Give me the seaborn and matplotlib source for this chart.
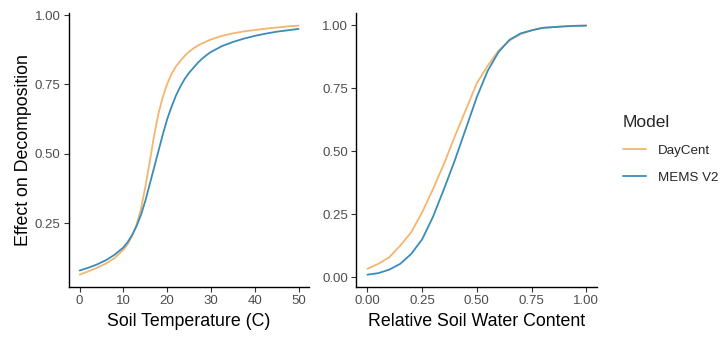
import pandas as pd
import matplotlib.pyplot as plt
import seaborn as sns

# values
temp = [0, 2, 4, 6, 8, 10, 11, 12, 13, 14, 15, 16, 17, 18, 19, 20, 21, 22, 23, 24, 25, 26, 27, 28, 29, 30,
        32.5, 35, 37.5, 40, 42.5, 45, 47.5, 50]
temp_daycent = [0.065, 0.077, 0.09, 0.105, 0.125, 0.155, 0.175, 0.205, 0.245, 0.30, 0.38, 0.47, 0.565, 0.645, 0.705,
                0.752, 0.788, 0.815, 0.835, 0.853, 0.868, 0.88, 0.89, 0.898, 0.905, 0.912,
                0.925, 0.934, 0.941, 0.946, 0.951, 0.955, 0.959, 0.962]
temp_mems = [0.08, 0.09, 0.102, 0.117, 0.137, 0.163, 0.183, 0.208, 0.24, 0.28, 0.33, 0.39, 0.45, 0.51, 0.57,
             0.625, 0.67, 0.71, 0.742, 0.77, 0.792, 0.81, 0.828, 0.843, 0.856, 0.867,
             0.888, 0.903, 0.915, 0.925, 0.933, 0.94, 0.945, 0.95]

water = [0.0, 0.05, 0.1, 0.15, 0.2, 0.25, 0.3, 0.35, 0.4, 0.45, 0.5, 0.55, 0.6, 0.65, 0.7, 0.75, 0.8, 0.85, 0.9, 0.95, 1.0]
water_daycent = [0.033, 0.053, 0.079, 0.125, 0.178, 0.257, 0.35, 0.45, 0.56, 0.665, 0.77, 0.84, 0.90, 0.94,
                 0.965, 0.98, 0.99, 0.993, 0.996, 0.998, 0.999]
water_mems = [0.01, 0.016, 0.03, 0.053, 0.092, 0.15, 0.24, 0.35, 0.465, 0.59, 0.715, 0.82, 0.895, 0.943,
              0.968, 0.98, 0.99, 0.993, 0.996, 0.998, 0.999]

models = ['DayCent', 'MEMS V2']
colors = {'DayCent': '#F5B56E', 'MEMS V2': '#3A8DB8'}

df_t = pd.DataFrame({'x': temp * 2, 'y': temp_daycent + temp_mems,
                     'Model': ['DayCent'] * len(temp) + ['MEMS V2'] * len(temp)})
df_w = pd.DataFrame({'x': water * 2, 'y': water_daycent + water_mems,
                     'Model': ['DayCent'] * len(water) + ['MEMS V2'] * len(water)})

sns.set_style('ticks')
plt.rcParams['font.family'] = ['Liberation Sans', 'DejaVu Sans']

fig, axes = plt.subplots(1, 2, figsize=(7.23, 3.37), dpi=100)
fig.subplots_adjust(left=0.095, right=0.826, bottom=0.148, top=0.961, wspace=0.195)

sns.lineplot(ax=axes[0], data=df_t, x='x', y='y', hue='Model', hue_order=models, palette=colors,
             linewidth=1.3, legend=False)
sns.lineplot(ax=axes[1], data=df_w, x='x', y='y', hue='Model', hue_order=models, palette=colors,
             linewidth=1.3, legend=True)

axes[0].set_xticks([0, 10, 20, 30, 40, 50])
axes[0].set_yticks([0.25, 0.50, 0.75, 1.00])
axes[0].set_yticklabels(['0.25', '0.50', '0.75', '1.00'])
axes[0].set_xlabel('Soil Temperature (C)', fontsize=12.8, color='black', labelpad=4)
axes[0].set_ylabel('Effect on Decomposition', fontsize=12.8, color='black', labelpad=2)

axes[1].set_xticks([0, 0.25, 0.5, 0.75, 1.0])
axes[1].set_xticklabels(['0.00', '0.25', '0.50', '0.75', '1.00'])
axes[1].set_yticks([0, 0.25, 0.5, 0.75, 1.0])
axes[1].set_yticklabels(['0.00', '0.25', '0.50', '0.75', '1.00'])
axes[1].set_xlabel('Relative Soil Water Content', fontsize=12.8, color='black', labelpad=4)
axes[1].set_ylabel('')

for ax in axes:
    sns.despine(ax=ax)
    ax.tick_params(labelsize=9.5, labelcolor='#4D4D4D', color='#333333', length=3.5, width=0.8, pad=2.5)
    for s in ['left', 'bottom']:
        ax.spines[s].set_linewidth(1.0)
        ax.spines[s].set_color('black')

handles, labels = axes[1].get_legend_handles_labels()
axes[1].get_legend().remove()
leg = fig.legend(handles, labels, title='Model', loc='upper left', bbox_to_anchor=(0.845, 0.695),
                 frameon=False, fontsize=9.6, title_fontsize=12.5, handlelength=1.7, handletextpad=0.9,
                 labelspacing=1.1)
leg._legend_box.align = 'left'

plt.savefig('out.png', dpi=100)
